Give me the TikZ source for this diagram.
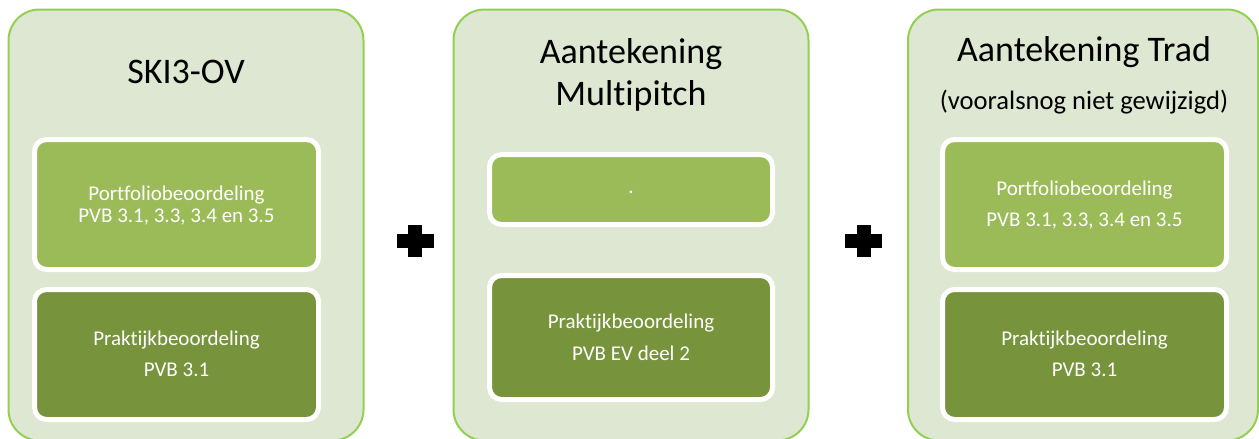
\documentclass[tikz,border=0pt]{standalone}
\usepackage{fontspec}
\setmainfont[Ligatures={NoCommon}]{Carlito}
\definecolor{panelfill}{HTML}{DEE7D1}
\definecolor{panelline}{HTML}{92D050}
\definecolor{lightbox}{HTML}{9BBB59}
\definecolor{darkbox}{HTML}{77933C}
\tikzset{
  panel/.style={rectangle, rounded corners=31pt, draw=panelline, line width=2pt, fill=panelfill, minimum width=355pt, minimum height=431pt, inner sep=0pt},
  panel3/.style={panel, minimum width=350pt},
  ibox/.style={rectangle, rounded corners=12pt, draw=white, line width=5pt, inner sep=0pt},
  lbox/.style={ibox, fill=lightbox},
  dbox/.style={ibox, fill=darkbox},
  title/.style={anchor=base, inner sep=0pt, font=\fontsize{36}{42}\selectfont, text=black},
  subtitle/.style={anchor=base, inner sep=0pt, font=\fontsize{26.6}{32}\selectfont, text=black},
  btext/.style={anchor=base, inner sep=0pt, font=\fontsize{21}{25}\selectfont, text=white},
  plusmark/.style={fill=black}
}
\begin{document}
\begin{tikzpicture}[x=1pt,y=-1pt]
\useasboundingbox (0,0) rectangle (1259,439);
\clip (0,0) rectangle (1259,439);
\fill[white] (0,0) rectangle (1259,439);
% panels
\node[panel] (p1) at (186,225) {};
\node[panel] (p2) at (631,225) {};
\node[panel3] (p3) at (1083,225) {};
% panel 1
\node[title] (t1) at (186,83) {SKI3-OV};
\node[lbox, minimum width=284pt, minimum height=130pt] (b11) at (176.5,204.5) {};
\node[btext] (b11a) at (176.5,200) {Portfoliobeoordeling};
\node[btext] (b11b) at (176.5,222) {PVB 3.1, 3.3, 3.4 en 3.5};
\node[dbox, minimum width=284pt, minimum height=130pt] (b12) at (176.5,354.5) {};
\node[btext] (b12a) at (176.5,345) {Praktijkbeoordeling};
\node[btext] (b12b) at (176.5,376.7) {PVB 3.1};
% panel 2
\node[title] (t2a) at (631,63.3) {Aantekening};
\node[title] (t2b) at (631,105) {Multipitch};
\node[lbox, minimum width=283pt, minimum height=70pt] (b21) at (631,189.5) {};
\node[btext] (b21a) at (631,193) {.};
\node[dbox, minimum width=283pt, minimum height=124pt] (b22) at (631,337.5) {};
\node[btext] (b22a) at (631,328.3) {Praktijkbeoordeling};
\node[btext] (b22b) at (631,360) {PVB EV deel 2};
% panel 3
\node[title] (t3a) at (1084,61.7) {Aantekening Trad};
\node[subtitle] (t3b) at (1084,109) {(vooralsnog niet gewijzigd)};
\node[lbox, minimum width=284pt, minimum height=130pt] (b31) at (1084.5,204.5) {};
\node[btext] (b31a) at (1084.5,195) {Portfoliobeoordeling};
\node[btext] (b31b) at (1084.5,226.7) {PVB 3.1, 3.3, 3.4 en 3.5};
\node[dbox, minimum width=284pt, minimum height=130pt] (b32) at (1084.5,354.5) {};
\node[btext] (b32a) at (1084.5,345) {Praktijkbeoordeling};
\node[btext] (b32b) at (1084.5,376.7) {PVB 3.1};
% plus signs
\fill[plusmark] (397,234) rectangle (434,248);
\fill[plusmark] (408,225) rectangle (422,257);
\fill[plusmark] (845,234) rectangle (882,248);
\fill[plusmark] (857,225) rectangle (871,257);
\end{tikzpicture}
\end{document}
